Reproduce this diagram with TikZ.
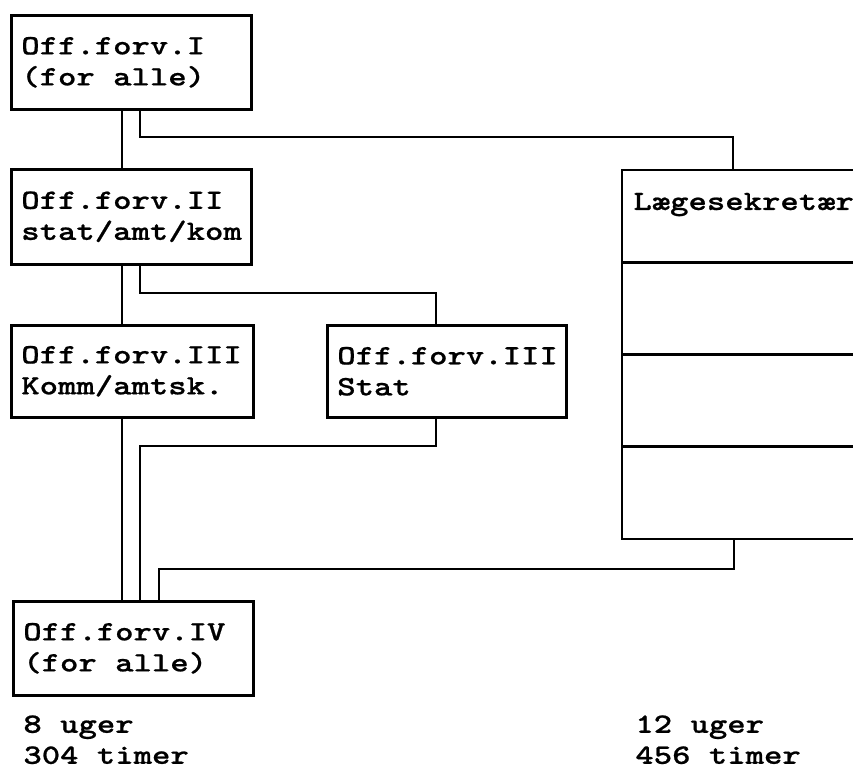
\documentclass[tikz,border=0pt]{standalone}
\usepackage{fontspec}
\setmainfont{lmmonolt10-bold}[Extension=.otf,FakeStretch=1.25,FakeBold=0.7]
\usetikzlibrary{positioning}
\tikzstyle{boks}=[draw,rectangle,line width=1.3pt,anchor=north west,inner xsep=5pt,inner ysep=0pt,align=flush left,font=\fontsize{14}{15.5}\selectfont]
\tikzstyle{celle}=[draw,rectangle,line width=1.3pt,minimum width=130pt,minimum height=46.125pt,inner sep=0pt,outer sep=0pt]
\tikzstyle{tekst}=[inner sep=0pt,align=flush left,font=\fontsize{14}{15.5}\selectfont]
\tikzstyle{link}=[line width=1pt]

\begin{document}
\begin{tikzpicture}[x=0.5pt,y=-0.5pt]
    \useasboundingbox (0,0) rectangle (853,769);
    \clip (0,0) rectangle (853,769);
    % venstre kolonne
    \node[boks,minimum width=120pt,minimum height=47pt,text width=110pt] (b1) at (10,14) {Off.forv.I\\(for alle)};
    \node[boks,minimum width=120pt,minimum height=47.5pt,text width=110pt] (b2) at (10,168) {Off.forv.II\\stat/amt/kom};
    \node[boks,minimum width=121pt,minimum height=46pt,text width=111pt] (b3) at (10,324) {Off.forv.III\\Komm/amtsk.};
    \node[boks,minimum width=119.5pt,minimum height=46pt,text width=109.5pt] (b4) at (326,324) {Off.forv.III\\Stat};
    \node[boks,minimum width=120pt,minimum height=47pt,text width=110pt] (b5) at (12,600) {Off.forv.IV\\(for alle)};
    % laegesekretaer
    \node[celle,anchor=north west] (c1) at (622,170) {};
    \node[celle,below=0pt of c1] (c2) {};
    \node[celle,below=0pt of c2] (c3) {};
    \node[celle,below=0pt of c3] (c4) {};
    \node[tekst,anchor=base west] (lt) at (633,210) {Lægesekretær};
    % forbindelser
    \coordinate (s1) at (122,0);
    \coordinate (k1) at (140,137);
    \coordinate (k2) at (733,137);
    \coordinate (k3) at (140,293);
    \coordinate (k4) at (436,293);
    \coordinate (k5) at (436,446);
    \coordinate (k6) at (140,446);
    \coordinate (k7) at (734,569);
    \coordinate (k8) at (159,569);
    \draw[link] (b1.south -| s1) -- (b2.north -| s1);
    \draw[link] (b2.south -| s1) -- (b3.north -| s1);
    \draw[link] (b3.south -| s1) -- (b5.north -| s1);
    \draw[link] (b1.south -| k1) -- (k1) -- (k2) -- (c1.north -| k2);
    \draw[link] (b2.south -| k3) -- (k3) -- (k4) -- (b4.north -| k4);
    \draw[link] (b4.south -| k5) -- (k5) -- (k6) -- (b5.north -| k6);
    \draw[link] (c4.south -| k7) -- (k7) -- (k8) -- (b5.north -| k8);
    % timetal
    \node[tekst,anchor=north west] (t1) at (23,715) {8 uger\\304 timer};
    \node[tekst,anchor=north west] (t2) at (635,715) {12 uger\\456 timer};
\end{tikzpicture}
\end{document}
